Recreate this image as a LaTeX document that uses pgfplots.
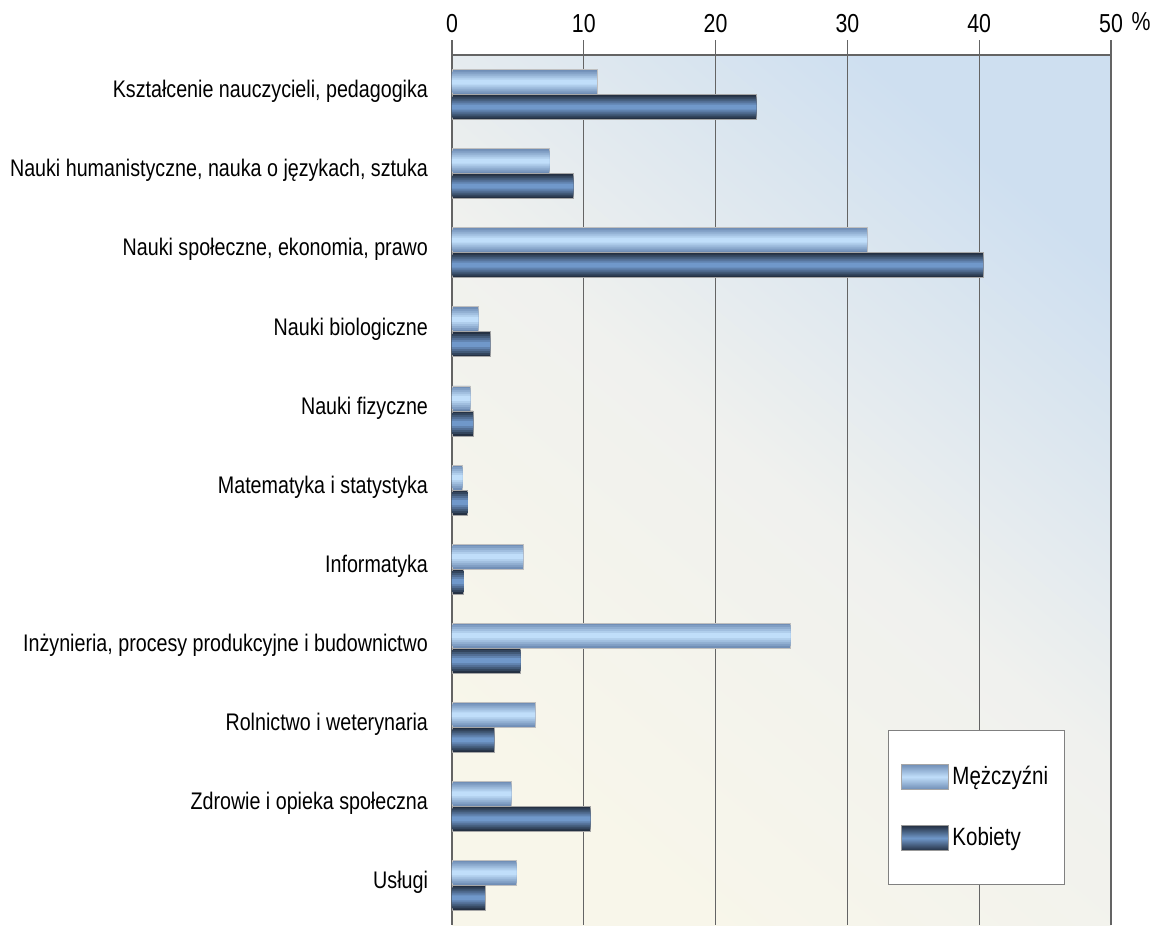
\documentclass[border=0pt]{standalone}
\usepackage{fontspec}
\setmainfont{Liberation Sans}[FakeStretch=0.82]
\usepackage{pgfplots}
\usepackage{pgfplotstable}
\pgfplotsset{compat=1.18}

\definecolor{mlight}{RGB}{192,222,250}
\definecolor{medge}{RGB}{112,142,182}
\definecolor{kmid}{RGB}{112,152,202}
\definecolor{kedge}{RGB}{36,48,66}
\definecolor{bgblue}{RGB}{206,223,240}
\definecolor{bgmid}{RGB}{240,241,238}
\definecolor{bgcream}{RGB}{248,246,234}
\definecolor{gridc}{RGB}{100,100,100}

% share of graduates by field, per cent
\pgfplotstableread{
idx men women
0  11.0 23.1
1   7.4  9.2
2  31.5 40.3
3   2.0  2.9
4   1.4  1.6
5   0.8  1.2
6   5.4  0.9
7  25.7  5.2
8   6.3  3.2
9   4.5 10.5
10  4.9  2.5
}\fields

% each bar is built from stacked layers to get the cylinder look
\pgfplotsset{
    mbar/.style 2 args={xbar, forget plot, draw=none, bar shift=6.25pt,
        bar width=#1, fill=mlight!#2!medge},
    kbar/.style 2 args={xbar, forget plot, draw=none, bar shift=-6.25pt,
        bar width=#1, fill=kmid!#2!kedge},
}

\begin{document}
\begin{tikzpicture}
\begin{axis}[
    scale only axis, width=329.5pt, height=435pt,
    y dir=reverse,
    xmin=0, xmax=50, ymin=-0.5, ymax=10.5,
    axis x line*=top, axis y line*=left,
    axis line style={gridc, line width=0.8pt},
    xtick={0,10,...,50},
    ytick={0,...,10},
    yticklabels={{Kształcenie nauczycieli, pedagogika},
        {Nauki humanistyczne, nauka o językach, sztuka},
        {Nauki społeczne, ekonomia, prawo},
        {Nauki biologiczne}, {Nauki fizyczne},
        {Matematyka i statystyka}, {Informatyka},
        {Inżynieria, procesy produkcyjne i budownictwo},
        {Rolnictwo i weterynaria}, {Zdrowie i opieka społeczna}, {Usługi}},
    ytick style={draw=none},
    tick align=outside, major tick length=7.5pt,
    x tick style={gridc, line width=0.6pt},
    xmajorgrids, grid style={gridc, line width=0.6pt},
    /pgf/number format/assume math mode=true,
    xticklabel style={font=\fontsize{13}{15}\selectfont},
    yticklabel style={font=\fontsize{12}{14}\selectfont, xshift=-1pt, yshift=1.5pt},
    xlabel={\%},
    xlabel style={at={(axis description cs:1,1)}, anchor=center,
        xshift=15pt, yshift=16.5pt, font=\fontsize{13}{15}\selectfont},
    axis background/.style={top color=bgblue, bottom color=bgcream,
        middle color=bgmid, shading angle=-40},
    legend image code/.code={\draw[#1] (0pt,-6.25pt) rectangle (23.5pt,6.25pt);},
    legend style={at={(axis description cs:0.662,0.046)}, anchor=south west,
        draw=gray, fill=white, inner xsep=6pt, inner ysep=16pt,
        row sep=16pt, font=\fontsize{12.5}{14}\selectfont,
        cells={anchor=west}},
]
% Mężczyźni
\addplot[mbar={12.5pt}{0}, draw=gray!50, line width=0.4pt] table[x=men, y=idx] {\fields};
\addplot[mbar={10.5pt}{20}] table[x=men, y=idx] {\fields};
\addplot[mbar={8.5pt}{40}] table[x=men, y=idx] {\fields};
\addplot[mbar={6.5pt}{60}] table[x=men, y=idx] {\fields};
\addplot[mbar={4.5pt}{80}] table[x=men, y=idx] {\fields};
\addplot[mbar={2.5pt}{100}] table[x=men, y=idx] {\fields};
% Kobiety
\addplot[kbar={12.5pt}{0}, draw=gray!70, line width=0.4pt] table[x=women, y=idx] {\fields};
\addplot[kbar={10.5pt}{20}] table[x=women, y=idx] {\fields};
\addplot[kbar={8.5pt}{40}] table[x=women, y=idx] {\fields};
\addplot[kbar={6.5pt}{60}] table[x=women, y=idx] {\fields};
\addplot[kbar={4.5pt}{80}] table[x=women, y=idx] {\fields};
\addplot[kbar={2.5pt}{100}] table[x=women, y=idx] {\fields};

\addlegendimage{draw=gray!70, top color=medge, bottom color=medge, middle color=mlight}
\addlegendentry{Mężczyźni}
\addlegendimage{draw=gray!80, top color=kedge, bottom color=kedge, middle color=kmid}
\addlegendentry{Kobiety}
\end{axis}
\pgfresetboundingbox
\path ([shift={(-226pt,-1pt)}]current axis.south west)
    rectangle ([shift={(24pt,27.5pt)}]current axis.north east);
\end{tikzpicture}
\end{document}
